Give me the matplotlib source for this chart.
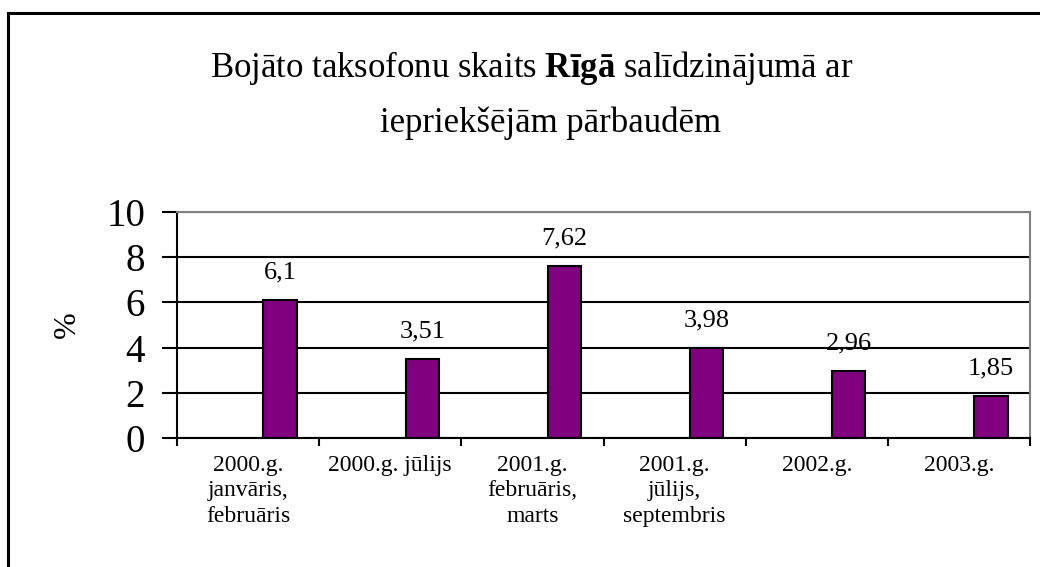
import matplotlib
matplotlib.use("Agg")
import matplotlib.pyplot as plt
from matplotlib.patches import Rectangle

categories = ["2000.g.\njanvāris,\nfebruāris", "2000.g. jūlijs", "2001.g.\nfebruāris,\nmarts",
              "2001.g.\njūlijs,\nseptembris", "2002.g.", "2003.g."]
values = [6.1, 3.51, 7.62, 3.98, 2.96, 1.85]
value_labels = ["6,1", "3,51", "7,62", "3,98", "2,96", "1,85"]
yticks = [0, 2, 4, 6, 8, 10]

plt.rcParams['font.family'] = ['Liberation Serif', 'DejaVu Serif']
plt.rcParams['mathtext.fontset'] = 'custom'
plt.rcParams['mathtext.rm'] = 'Liberation Serif'
plt.rcParams['mathtext.bf'] = 'Liberation Serif:bold'
plt.rcParams['mathtext.it'] = 'Liberation Serif:italic'

fig = plt.figure(figsize=(10.4, 5.67), dpi=100)
ax = fig.add_axes([177/1040, 129/567, 853/1040, 226/567])

# figure border (partially cut off at right/bottom)
fig.patches.append(Rectangle((8/1040, -0.1), 1.2, (567-13)/567 + 0.1, transform=fig.transFigure,
                             fill=False, edgecolor='black', linewidth=2.2, zorder=0))

n = len(values)
xs = [i + 0.225 for i in range(n)]
ax.bar(xs, values, width=0.235, color='#800080', edgecolor='black', linewidth=1.5, zorder=3)
for x, v, lab in zip(xs, values, value_labels):
    ax.annotate(lab, (x, v), xytext=(0, 12), textcoords='offset points',
                ha='center', va='bottom', fontsize=19)

ax.set_xlim(-0.5, n - 0.5)
ax.set_ylim(0, 10)
ax.set_yticks(yticks)
ax.set_yticklabels([str(t) for t in yticks], fontsize=28)
ax.yaxis.grid(True, color='black', linewidth=1.5, zorder=1)
ax.set_axisbelow(True)

ax.set_xticks([i - 0.5 for i in range(n + 1)])
ax.set_xticklabels([])
ax.set_xticks(range(n), minor=True)
ax.set_xticklabels(categories, minor=True, fontsize=17, linespacing=1.3, va='top')
ax.tick_params(axis='x', which='major', direction='out', length=6, width=1.5)
ax.tick_params(axis='x', which='minor', length=0, pad=12)
ax.tick_params(axis='y', direction='out', length=11, width=1.5, pad=12)

for s in ['left', 'bottom']:
    ax.spines[s].set_color('black')
    ax.spines[s].set_linewidth(1.5)
for s in ['top', 'right']:
    ax.spines[s].set_color('#808080')
    ax.spines[s].set_linewidth(1.5)

ax.set_ylabel('%', fontsize=23, va='center')
ax.yaxis.set_label_coords(-0.129, 0.5)

fig.text(532/1040, 1 - 68/567, 'Bojāto taksofonu skaits $\\mathbf{Rīgā}$ salīdzinājumā ar', ha='center', va='center', fontsize=25)
fig.text(550/1040, 1 - 123/567, 'iepriekšējām pārbaudēm', ha='center', va='center', fontsize=25)

fig.savefig('out.png', dpi=100)
